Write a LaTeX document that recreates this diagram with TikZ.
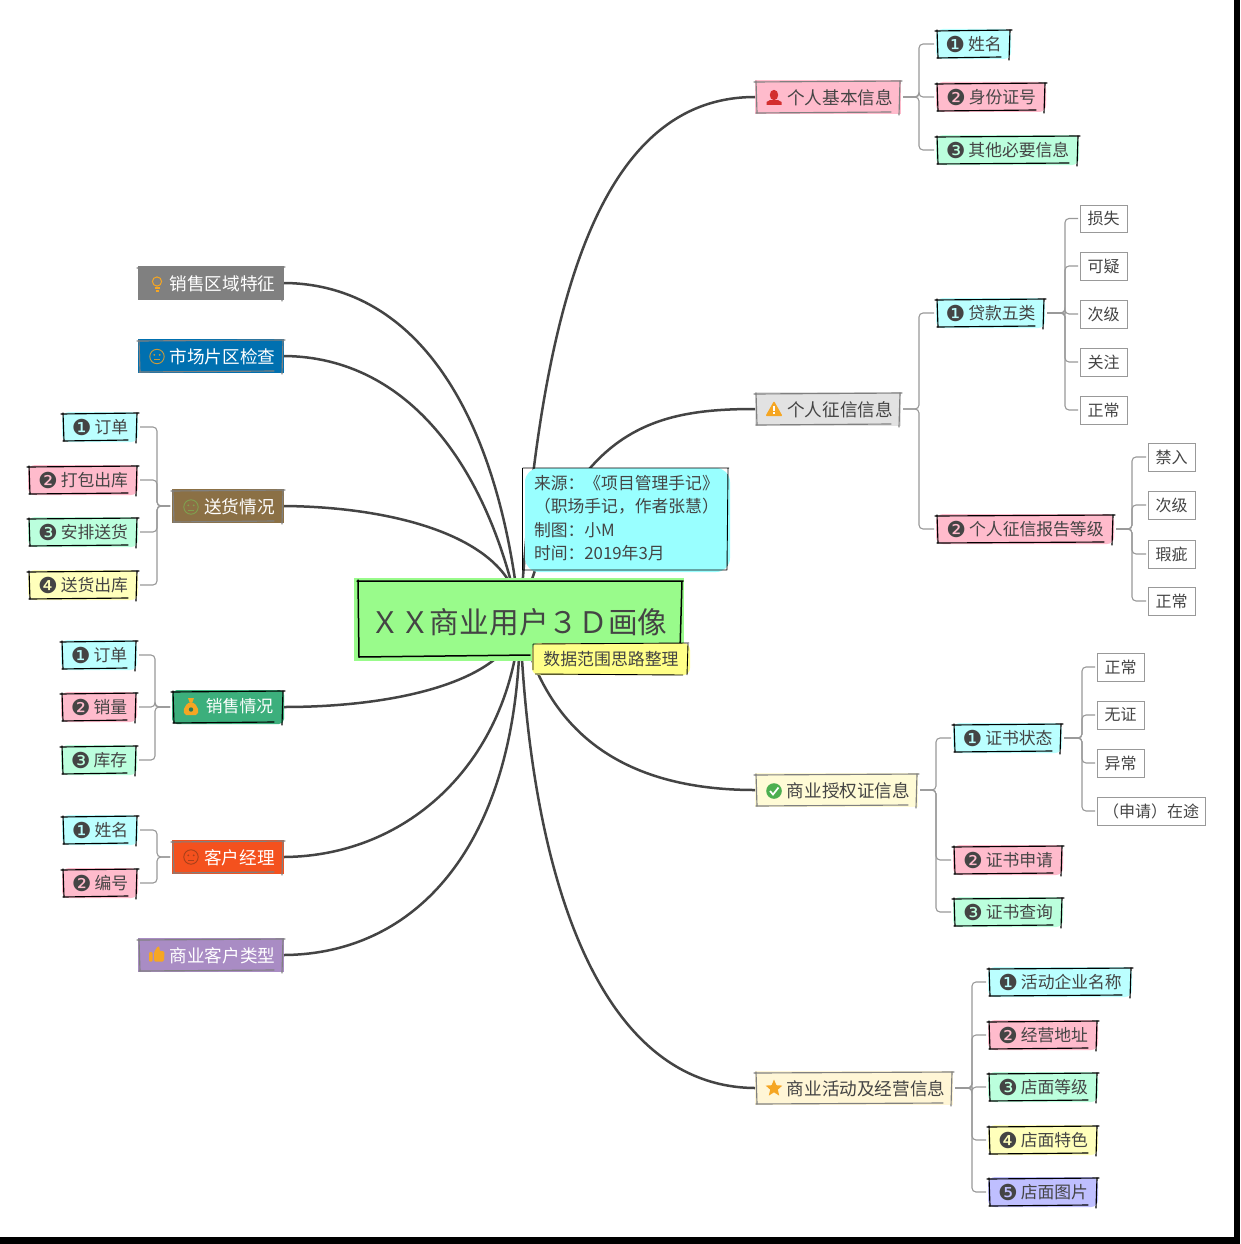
\documentclass[tikz,border=0pt]{standalone}
\usepackage{fontspec}
\setmainfont{Noto Sans CJK SC}
\newfontfamily\djv{DejaVu Sans}
\definecolor{ink}{HTML}{444444}
\definecolor{cCy}{HTML}{BBFFFF}
\definecolor{cPk}{HTML}{FFBBCC}
\definecolor{cGr}{HTML}{BBFFDD}
\definecolor{cYe}{HTML}{FFFFBB}
\definecolor{cLa}{HTML}{BFBFFF}
\definecolor{cOr}{HTML}{F5A623}
\definecolor{cGy}{HTML}{808080}
\definecolor{cBl}{HTML}{0070B0}
\definecolor{cBr}{HTML}{8B7045}
\definecolor{cGn}{HTML}{3CAF7C}
\definecolor{cRd}{HTML}{F4511E}
\definecolor{cPu}{HTML}{A98CC4}
\definecolor{cRoot}{HTML}{99FB8B}
\definecolor{cNote}{HTML}{99FFFF}
\definecolor{cLab}{HTML}{FFFF88}
\definecolor{cAuth}{HTML}{FFFBD6}
\definecolor{cAct}{HTML}{FFF6D6}
\definecolor{cMis}{HTML}{E2E2E2}
\definecolor{cPers}{HTML}{D32F2F}
\definecolor{cChk}{HTML}{4CAF50}
\definecolor{cFaceA}{HTML}{C89A3C}
\definecolor{cFaceB}{HTML}{7FA04F}
\definecolor{cFaceC}{HTML}{A8401A}
\tikzset{
  boxbase/.style={inner sep=0pt,outer sep=0pt,align=center,text=ink},
  leaf/.style={boxbase,rounded corners=7pt,font=\fontsize{16.8pt}{20pt}\selectfont},
  mainbox/.style={boxbase,font=\fontsize{17.6pt}{21pt}\selectfont},
  plain/.style={boxbase,draw=black!40,fill=white,line width=.7pt,font=\fontsize{16pt}{20pt}\selectfont},
  skline/.style={line width=1.15pt,draw=black,line cap=round},
  branch/.style={draw=black!40,line width=1.1pt,rounded corners=4pt,shorten <=2pt,shorten >=2pt},
  trunk/.style={draw=ink,line width=2.5pt},
  whitetext/.style={text=white},
}
% name x1 y1 x2 y2 style text
\newcommand{\bx}[7]{\node[#6,minimum width={(#4-#2)*1pt},minimum height={(#5-#3)*1pt}] (#1) at ({(#2+#4)/2},{(#3+#5)/2}) {#7};}
% name colour : hand-drawn outline round a named box
\newcommand{\sk}[2]{%
  \draw[skline,draw=#2] ([xshift=-1pt,yshift=-2pt]#1.north west) -- ([xshift=1pt,yshift=-1pt]#1.north east);
  \draw[skline,draw=#2] ([xshift=1pt,yshift=-1pt]#1.north west) -- ([xshift=2pt,yshift=1pt]#1.south west);
  \draw[skline,draw=#2] ([xshift=1pt,yshift=1pt]#1.south west) -- ([xshift=-10pt,yshift=2pt]#1.south east);
  \draw[skline,draw=#2] ([xshift=-1pt,yshift=-1pt]#1.north east) -- ([xshift=-2pt,yshift=-1pt]#1.south east);}
\newcommand{\dn}[2]{\raisebox{\dimexpr-.38em-#1\relax}[0pt][0pt]{#2}}
\newcommand{\lf}[7]{\bx{#1}{#2}{#3}{#4}{#5}{leaf,fill=#6}{#7}\sk{#1}{black}}
\newcommand{\mn}[7]{\bx{#1}{#2}{#3}{#4}{#5}{mainbox,fill=#6}{\hspace*{24pt}\dn{1pt}{#7}}\sk{#1}{black!50}}
\newcommand{\mw}[7]{\bx{#1}{#2}{#3}{#4}{#5}{mainbox,whitetext,fill=#6}{\hspace*{23pt}\dn{1pt}{#7}}\sk{#1}{black!50}}
\newcommand{\nm}[1]{{\djv\fontsize{22pt}{20pt}\selectfont\raisebox{-1.5pt}{#1}}\hspace{3pt}}
\newcommand{\brR}[3]{\draw[branch] (#1.east) -- (#3,0 |- #1.east) |- (#2.west);}
\newcommand{\brL}[3]{\draw[branch] (#1.west) -- (#3,0 |- #1.west) |- (#2.east);}
\newcommand{\face}[3]{\draw[#3,line width=.9pt] (#1,#2) circle (7.2pt);
  \fill[#3] ({#1-2.7},{#2-1.6}) circle (1pt) ({#1+2.7},{#2-1.6}) circle (1pt);
  \draw[#3,line width=.8pt] ({#1-3},{#2+3}) -- ({#1+3},{#2+3});}
\begin{document}
\begin{tikzpicture}[x=1pt,y=-1pt]
\useasboundingbox (0,0) rectangle (1240,1244);
\fill[white] (0,0) rectangle (1240,1244);
\fill[black] (0,1236.5) rectangle (1240,1244);
\fill[black] (1234,0) rectangle (1240,1244);

\coordinate (hub) at (520,620);

% right main topics
\mn{nA}{755}{80}{901}{114}{cPk}{个人基本信息}
\mn{nB}{755}{392}{901}{426}{cMis}{个人征信信息}
\mn{nC}{755}{773}{918}{807}{cAuth}{商业授权证信息}
\mn{nD}{755}{1071}{953}{1105}{cAct}{商业活动及经营信息}
% left main topics
\mw{mA}{138}{266}{284}{300}{cGy}{销售区域特征}
\mw{mB}{138}{339}{284}{373}{cBl}{市场片区检查}
\mw{mC}{172}{489}{284}{523}{cBr}{送货情况}
\bx{mD}{172}{690}{284}{724}{mainbox,whitetext,fill=cGn,rounded corners=5pt,font=\fontsize{16.8pt}{20pt}\selectfont}{\hspace*{23pt}\dn{-0.5pt}{销售情况}}\sk{mD}{black}
\mw{mE}{172}{840}{284}{874}{cRd}{客户经理}
\mw{mF}{138}{938}{284}{972}{cPu}{商业客户类型}

% trunks
\draw[trunk] (hub) .. controls (540,300) and (600,97) .. (nA.west);
\draw[trunk] (hub) .. controls (570,430) and (650,409) .. (nB.west);
\draw[trunk] (hub) .. controls (545,730) and (620,790) .. (nC.west);
\draw[trunk] (hub) .. controls (530,880) and (600,1087) .. (nD.west);
\draw[trunk] (hub) .. controls (500,420) and (420,284) .. (mA.east);
\draw[trunk] (hub) .. controls (490,470) and (410,357) .. (mB.east);
\draw[trunk] (hub) .. controls (520,540) and (400,507) .. (mC.east);
\draw[trunk] (hub) .. controls (510,680) and (400,707) .. (mD.east);
\draw[trunk] (hub) .. controls (510,760) and (410,856) .. (mE.east);
\draw[trunk] (hub) .. controls (520,840) and (420,954) .. (mF.east);

% root, note, label
\bx{root}{354}{578}{684}{661}{boxbase,fill=cRoot,font=\fontsize{29.7pt}{34pt}\selectfont}{\dn{3pt}{ＸＸ商业用户３Ｄ画像}}
\draw[skline,line width=1.5pt] (357,581) -- (683,581) (358,580) -- (359,657) -- (530,655) (682,581) -- (680,650);
\bx{notebg}{525}{468}{730}{572}{boxbase,rounded corners=14pt,fill=cNote}{}
\bx{note}{525}{466}{730}{570}{boxbase,font=\fontsize{16.8pt}{23.4pt}\selectfont,align=left,text width=187pt}{来源：《项目管理手记》\\（职场手记，作者张慧）\\制图：小M\\时间：2019年3月}
\draw[line width=.9pt] (522.5,468) -- (729,468) (522.5,468) -- (522.5,570) -- (727,570) (728,468) -- (727,570);
\bx{lab}{532}{643}{690}{675}{boxbase,rounded corners=7pt,fill=cLab,font=\fontsize{16.9pt}{20pt}\selectfont}{数据范围思路整理}
\draw[line width=.9pt] (533,644) -- (689,643) (533,644) -- (533,670) (535,674) -- (683,675) (688,644) -- (687,675);

% right leaves
\lf{a1}{936}{29}{1011}{59}{cCy}{\nm{❶}姓名}
\lf{a2}{936}{82}{1046}{112}{cPk}{\nm{❷}身份证号}
\lf{a3}{936}{135}{1079}{165}{cGr}{\nm{❸}其他必要信息}
\brR{nA}{a1}{919}\brR{nA}{a2}{919}\brR{nA}{a3}{919}

\lf{b1}{936}{298}{1045}{328}{cCy}{\nm{❶}贷款五类}
\lf{b2}{936}{514}{1114}{544}{cPk}{\nm{❷}个人征信报告等级}
\brR{nB}{b1}{919}\brR{nB}{b2}{919}
\bx{b11}{1080}{205}{1127}{232}{plain}{损失}
\bx{b12}{1080}{252}{1127}{280}{plain}{可疑}
\bx{b13}{1080}{300}{1127}{328}{plain}{次级}
\bx{b14}{1080}{348}{1127}{376}{plain}{关注}
\bx{b15}{1080}{396}{1127}{424}{plain}{正常}
\foreach \c in {b11,b12,b13,b14,b15} {\brR{b1}{\c}{1065}}
\bx{b21}{1148}{443}{1195}{471}{plain}{禁入}
\bx{b22}{1148}{491}{1195}{519}{plain}{次级}
\bx{b23}{1148}{540}{1195}{568}{plain}{瑕疵}
\bx{b24}{1148}{587}{1195}{615}{plain}{正常}
\foreach \c in {b21,b22,b23,b24} {\brR{b2}{\c}{1132}}

\lf{c1}{953}{723}{1062}{753}{cCy}{\nm{❶}证书状态}
\lf{c2}{953}{845}{1063}{875}{cPk}{\nm{❷}证书申请}
\lf{c3}{953}{897}{1063}{927}{cGr}{\nm{❸}证书查询}
\brR{nC}{c1}{936}\brR{nC}{c2}{936}\brR{nC}{c3}{936}
\bx{c11}{1097}{653}{1144}{681}{plain}{正常}
\bx{c12}{1097}{701}{1144}{729}{plain}{无证}
\bx{c13}{1097}{749}{1144}{777}{plain}{异常}
\bx{c14}{1097}{797}{1205}{825}{plain}{（申请）在途}
\foreach \c in {c11,c12,c13,c14} {\brR{c1}{\c}{1082}}

\lf{d1}{988}{967}{1132}{997}{cCy}{\nm{❶}活动企业名称}
\lf{d2}{988}{1020}{1098}{1050}{cPk}{\nm{❷}经营地址}
\lf{d3}{988}{1072}{1098}{1102}{cGr}{\nm{❸}店面等级}
\lf{d4}{988}{1125}{1098}{1155}{cYe}{\nm{❹}店面特色}
\lf{d5}{988}{1177}{1098}{1207}{cLa}{\nm{❺}店面图片}
\foreach \c in {d1,d2,d3,d4,d5} {\brR{nD}{\c}{972}}

% left leaves
\lf{e1}{62}{412}{138}{442}{cCy}{\nm{❶}订单}
\lf{e2}{28}{465}{138}{495}{cPk}{\nm{❷}打包出库}
\lf{e3}{28}{517}{138}{547}{cGr}{\nm{❸}安排送货}
\lf{e4}{28}{570}{138}{600}{cYe}{\nm{❹}送货出库}
\foreach \c in {e1,e2,e3,e4} {\brL{mC}{\c}{157}}
\lf{f1}{61}{640}{137}{670}{cCy}{\nm{❶}订单}
\lf{f2}{61}{692}{137}{722}{cPk}{\nm{❷}销量}
\lf{f3}{61}{745}{137}{775}{cGr}{\nm{❸}库存}
\foreach \c in {f1,f2,f3} {\brL{mD}{\c}{155}}
\lf{g1}{62}{815}{138}{845}{cCy}{\nm{❶}姓名}
\lf{g2}{62}{868}{138}{898}{cPk}{\nm{❷}编号}
\foreach \c in {g1,g2} {\brL{mE}{\c}{157}}

% icons
\fill[cPers] (774,95) ellipse (4.2pt and 5.2pt);
\fill[cPers] (766.5,105) -- (766.5,102) .. controls (768,100) and (771,100) .. (774,100) .. controls (777,100) and (780,100) .. (781.5,102) -- (781.5,105) -- cycle;
\fill[cOr,rounded corners=1pt] (774,401) -- (782.5,416) -- (765.5,416) -- cycle;
\draw[white,line width=1.3pt] (774,405.5) -- (774,411) (774,412.4) -- (774,413.8);
\fill[cChk] (774,791) circle (7.8pt);
\draw[white,line width=1.7pt] (770,791) -- (773,794.5) -- (778.5,787.5);
\fill[cOr] (774,1079.5) -- (776.4,1085.2) -- (782.3,1085.6) -- (777.8,1089.6) -- (779.2,1095.6) -- (774,1092.3) -- (768.8,1095.6) -- (770.2,1089.6) -- (765.7,1085.6) -- (771.6,1085.2) -- cycle;
% bulb
\draw[cOr,line width=1pt] (157,281.5) circle (4.6pt);
\draw[cOr,line width=1.2pt] (154.5,288) -- (159.5,288) (155.5,291) -- (158.5,291);
\face{157}{356.5}{cFaceA}
\face{191}{507}{cFaceB}
\face{191}{857}{cFaceC}
% money bag
\fill[cOr] (191,702) .. controls (183,704) and (182,714) .. (186,715) -- (196,715) .. controls (200,714) and (199,704) .. (191,702) -- cycle;
\fill[cOr] (188,698) -- (194,698) -- (192.5,702) -- (189.5,702) -- cycle;
\fill[cGn!70!black] (191,709.5) circle (2.2pt);
% thumb
\fill[cOr,rounded corners=1pt] (149,952) -- (152.5,952) -- (152.5,961.5) -- (149,961.5) -- cycle;
\fill[cOr,rounded corners=1.5pt] (154,952) -- (158,946) -- (160,947) -- (159,951) -- (164.5,951) -- (164,961.5) -- (154,961.5) -- cycle;
\end{tikzpicture}
\end{document}
